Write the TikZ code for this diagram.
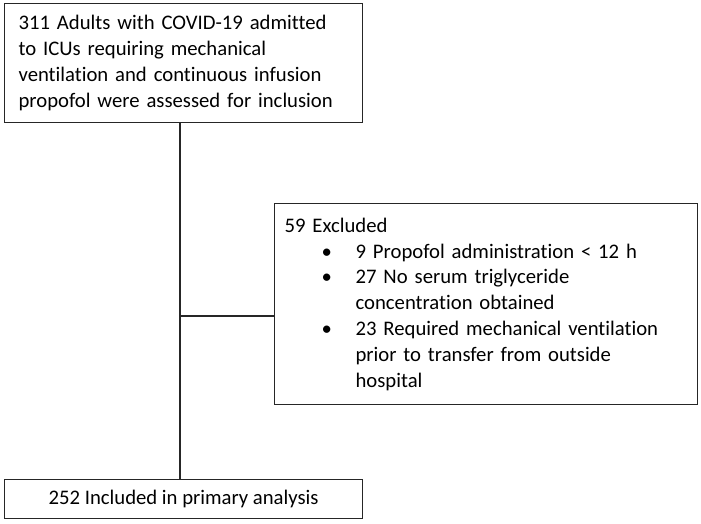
\documentclass[tikz,border=0pt]{standalone}
\usepackage{fontspec}
\setmainfont{Carlito}[Ligatures={NoCommon,NoContextual}]
\begin{document}
\begin{tikzpicture}[x=1pt,y=-1pt,
  box/.style={draw=black!85, line width=1.2pt, inner sep=0pt, font=\fontsize{20.7}{25.8}\selectfont},
  link/.style={draw=black!85, line width=1.2pt}]
\useasboundingbox (0,0) rectangle (701,523);
\node[box, anchor=north west, minimum width=358pt, minimum height=119pt, text width=330pt, inner xsep=14pt, align=left] (top) at (4,3)
  {311 Adults with COVID-19 admitted\\to ICUs requiring mechanical\\ventilation and continuous infusion\\propofol were assessed for inclusion};
\node[box, anchor=north west, minimum width=423pt, minimum height=201pt, text width=403pt, inner xsep=10pt, align=left] (excl) at (274,203)
  {59 Excluded\\
   \hspace*{37pt}\makebox[34pt][l]{•}9 Propofol administration < 12 h\\
   \hspace*{37pt}\makebox[34pt][l]{•}27 No serum triglyceride\\
   \hspace*{71pt}concentration obtained\\
   \hspace*{37pt}\makebox[34pt][l]{•}23 Required mechanical ventilation\\
   \hspace*{71pt}prior to transfer from outside\\
   \hspace*{71pt}hospital};
\node[box, anchor=north west, minimum width=358pt, minimum height=39pt] (bot) at (4,479)
  {252 Included in primary analysis};
\coordinate (j) at (180,316);
\draw[link] (top.south -| j) -- (bot.north -| j);
\draw[link] (j) -- (excl.west |- j);
\end{tikzpicture}
\end{document}
